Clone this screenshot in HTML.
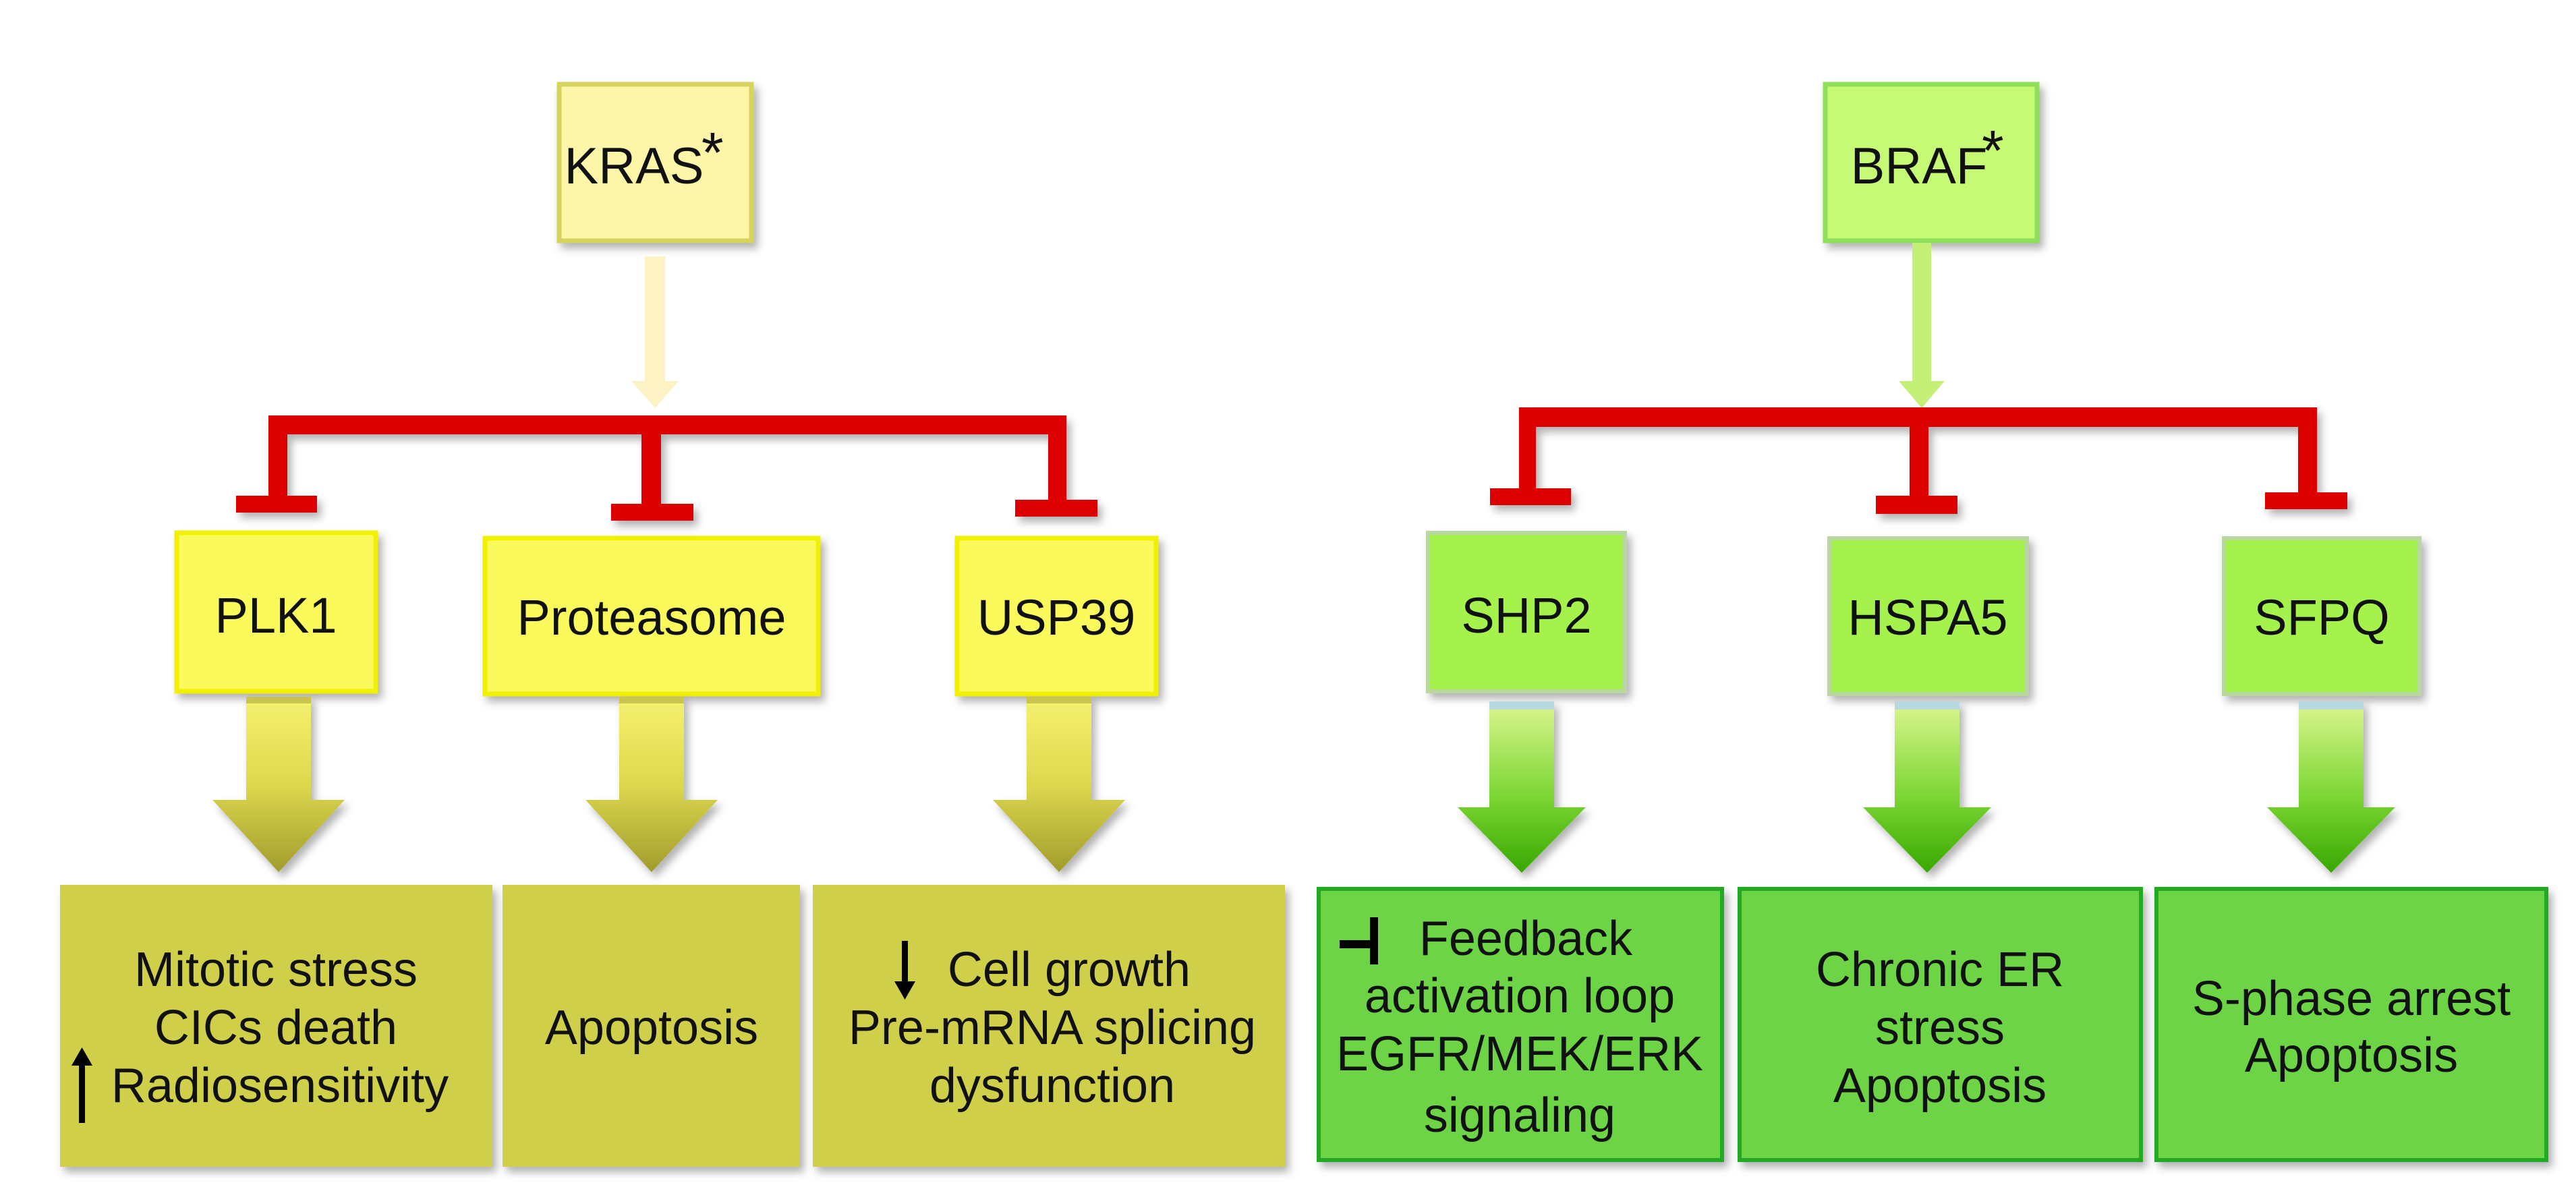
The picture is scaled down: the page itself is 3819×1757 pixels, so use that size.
<!DOCTYPE html>
<html><head><meta charset="utf-8"><style>
html,body{margin:0;padding:0;background:#fff;}
svg{display:block;}
text{font-family:"Liberation Sans","DejaVu Sans",sans-serif;fill:#111;}
</style></head><body>
<svg width="3819" height="1757" viewBox="0 0 3819 1757" xmlns="http://www.w3.org/2000/svg">
<defs>
<linearGradient id="og" gradientUnits="userSpaceOnUse" x1="0" y1="1033" x2="0" y2="1293">
<stop offset="0" stop-color="#f6f26c"/><stop offset="0.5" stop-color="#dcd84e"/><stop offset="1" stop-color="#a09c2c"/>
</linearGradient>
<linearGradient id="gg" gradientUnits="userSpaceOnUse" x1="0" y1="1040" x2="0" y2="1294">
<stop offset="0" stop-color="#dcf690"/><stop offset="0.55" stop-color="#7cd634"/><stop offset="1" stop-color="#38a800"/>
</linearGradient>
<filter id="sh" x="-10%" y="-10%" width="130%" height="130%"><feDropShadow dx="6" dy="8" stdDeviation="6" flood-color="#000" flood-opacity="0.3"/></filter>
</defs>

<!-- KRAS side -->
<rect x="829" y="125" width="285" height="232" fill="#fdf5a8" stroke="#d6d45c" stroke-width="7" filter="url(#sh)"/>
<text x="940" y="272" font-size="76" text-anchor="middle">KRAS</text>
<text x="1040" y="255" font-size="84">*</text>
<rect x="956" y="380" width="30" height="190" fill="#fdf2c4"/>
<polygon points="936,565 1006,565 971,605" fill="#fdf2c4"/>

<g fill="#dd0000" filter="url(#sh)">
<rect x="398" y="616" width="1183" height="28"/>
<rect x="398" y="616" width="28" height="124"/>
<rect x="350" y="735" width="120" height="25"/>
<rect x="951" y="616" width="29" height="135"/>
<rect x="906" y="747" width="122" height="25"/>
<rect x="1554" y="616" width="27" height="130"/>
<rect x="1505" y="741" width="122" height="25"/>
</g>

<g fill="#fafa5c" stroke="#f0f000" stroke-width="7" filter="url(#sh)">
<rect x="262" y="790" width="295" height="235"/>
<rect x="719" y="798" width="494" height="231"/>
<rect x="1419" y="798" width="295" height="231"/>
</g>
<g font-size="74" text-anchor="middle">
<text x="409" y="938">PLK1</text>
<text x="966" y="941">Proteasome</text>
<text x="1566" y="941">USP39</text>
</g>

<!-- olive arrows -->
<g filter="url(#sh)">
<g transform="translate(413,0)">
<rect x="-48" y="1033" width="96" height="155" fill="url(#og)"/>
<rect x="-48" y="1033" width="96" height="10" fill="#c8c450"/>
<rect x="-48" y="1047" width="96" height="10" fill="#f0ec70"/>
<polygon points="-98,1186 98,1186 0,1293" fill="url(#og)"/>
</g>
<g transform="translate(966,0)">
<rect x="-48" y="1033" width="96" height="155" fill="url(#og)"/>
<rect x="-48" y="1033" width="96" height="10" fill="#c8c450"/>
<rect x="-48" y="1047" width="96" height="10" fill="#f0ec70"/>
<polygon points="-98,1186 98,1186 0,1293" fill="url(#og)"/>
</g>
<g transform="translate(1570,0)">
<rect x="-48" y="1033" width="96" height="155" fill="url(#og)"/>
<rect x="-48" y="1033" width="96" height="10" fill="#c8c450"/>
<rect x="-48" y="1047" width="96" height="10" fill="#f0ec70"/>
<polygon points="-98,1186 98,1186 0,1293" fill="url(#og)"/>
</g>
</g>

<g fill="#cfcf48" filter="url(#sh)">
<rect x="89" y="1312" width="641" height="418"/>
<rect x="745" y="1312" width="441" height="418"/>
<rect x="1205" y="1312" width="700" height="418"/>
</g>
<g font-size="72" text-anchor="middle">
<text x="409" y="1462">Mitotic stress</text>
<text x="409" y="1548">CICs death</text>
<text x="415" y="1634">Radiosensitivity</text>
<text x="966" y="1548">Apoptosis</text>
<text x="1585" y="1462">Cell growth</text>
<text x="1560" y="1548">Pre-mRNA splicing</text>
<text x="1560" y="1634">dysfunction</text>
</g>
<!-- small arrows -->
<rect x="117" y="1575" width="9" height="90" fill="#000"/>
<polygon points="106,1580 137,1580 121.5,1553" fill="#000"/>
<rect x="1337" y="1395" width="9" height="65" fill="#000"/>
<polygon points="1326,1455 1357,1455 1341.5,1482" fill="#000"/>

<!-- BRAF side -->
<rect x="2706" y="125" width="314" height="232" fill="#c6fa74" stroke="#8ee05a" stroke-width="7" filter="url(#sh)"/>
<text x="2845" y="272" font-size="76" text-anchor="middle">BRAF</text>
<text x="2938" y="252" font-size="84">*</text>
<rect x="2835" y="360" width="28" height="210" fill="#c4f078"/>
<polygon points="2815,565 2883,565 2849,605" fill="#c4f078"/>

<g fill="#dd0000" filter="url(#sh)">
<rect x="2252" y="604" width="1183" height="29"/>
<rect x="2252" y="604" width="25" height="125"/>
<rect x="2209" y="724" width="120" height="25"/>
<rect x="2831" y="604" width="28" height="135"/>
<rect x="2781" y="735" width="121" height="27"/>
<rect x="3407" y="604" width="28" height="130"/>
<rect x="3358" y="730" width="122" height="25"/>
</g>

<g fill="#a4f24c" stroke="#b8d8a0" stroke-width="6" filter="url(#sh)">
<rect x="2117" y="790" width="292" height="235"/>
<rect x="2712" y="798" width="293" height="231"/>
<rect x="3297" y="798" width="290" height="231"/>
</g>
<g font-size="74" text-anchor="middle">
<text x="2263" y="938">SHP2</text>
<text x="2858" y="941">HSPA5</text>
<text x="3442" y="941">SFPQ</text>
</g>

<g filter="url(#sh)">
<g transform="translate(2256,0)">
<rect x="-48" y="1040" width="96" height="160" fill="url(#gg)"/>
<rect x="-48" y="1040" width="96" height="12" fill="#b8d8e0"/>
<polygon points="-95,1197 95,1197 0,1294" fill="url(#gg)"/>
</g>
<g transform="translate(2857,0)">
<rect x="-48" y="1040" width="96" height="160" fill="url(#gg)"/>
<rect x="-48" y="1040" width="96" height="12" fill="#b8d8e0"/>
<polygon points="-95,1197 95,1197 0,1294" fill="url(#gg)"/>
</g>
<g transform="translate(3456,0)">
<rect x="-48" y="1040" width="96" height="160" fill="url(#gg)"/>
<rect x="-48" y="1040" width="96" height="12" fill="#b8d8e0"/>
<polygon points="-95,1197 95,1197 0,1294" fill="url(#gg)"/>
</g>
</g>

<g fill="#6cd444" stroke="#22aa22" stroke-width="6" filter="url(#sh)">
<rect x="1955" y="1318" width="598" height="402"/>
<rect x="2579" y="1318" width="595" height="402"/>
<rect x="3197" y="1318" width="578" height="402"/>
</g>
<g font-size="72" text-anchor="middle">
<text x="2262" y="1416">Feedback</text>
<text x="2253" y="1501">activation loop</text>
<text x="2253" y="1587">EGFR/MEK/ERK</text>
<text x="2253" y="1678">signaling</text>
<text x="2876" y="1462">Chronic ER</text>
<text x="2876" y="1548">stress</text>
<text x="2876" y="1634">Apoptosis</text>
<text x="3486" y="1505">S-phase arrest</text>
<text x="3486" y="1589">Apoptosis</text>
</g>
<!-- inhibition glyph -->
<rect x="1986" y="1394" width="45" height="12" fill="#000"/>
<rect x="2031" y="1360" width="12" height="70" fill="#000"/>
</svg>
</body></html>
